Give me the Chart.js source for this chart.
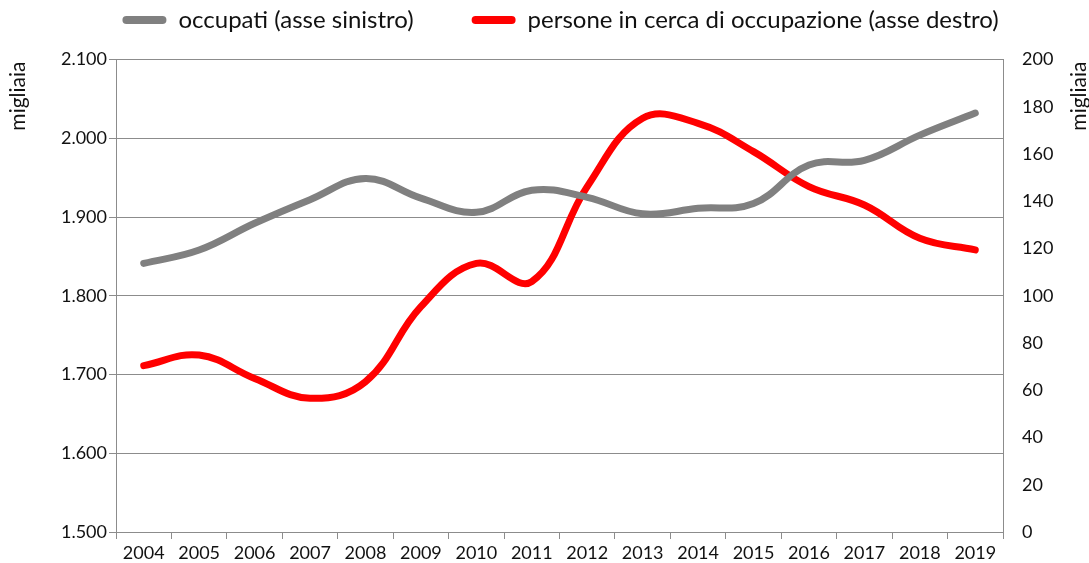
<!DOCTYPE html>
<html lang="it">
<head>
<meta charset="utf-8">
<title>Occupati e persone in cerca di occupazione</title>
<script src="https://cdn.jsdelivr.net/npm/chart.js@4/dist/chart.umd.min.js"></script>
<style>
  html, body { margin:0; padding:0; background:#fff; }
  #wrap { width:1089px; height:563px; position:relative; }
</style>
</head>
<body>
<div id="wrap"><canvas id="lavoroChart"></canvas></div>
<script>
// anni
const years = ['2004','2005','2006','2007','2008','2009','2010','2011','2012','2013','2014','2015','2016','2017','2018','2019'];
// occupati, migliaia (asse sinistro)
const occupati = [1841, 1858, 1892, 1922, 1949, 1924, 1906, 1934, 1925, 1904, 1911, 1917, 1966, 1972, 2004, 2032];
// persone in cerca di occupazione, migliaia (asse destro)
const inCerca = [70.4, 74.9, 65.0, 56.6, 63.6, 95.4, 113.7, 106.0, 146.2, 175.1, 173.0, 161.0, 146.2, 138.4, 124.3, 119.4];

const labelOccupati = 'occupati (asse sinistro)';
const labelInCerca = 'persone in cerca di occupazione (asse destro)';
const axisTitle = 'migliaia';

const FONT = 'Lato, "Liberation Sans", Arial, sans-serif';
const GRID = '#8c8c8c';

// 1500 -> "1.500"
function fmtMigliaia(v){
  if (v < 1000) return String(v);
  return Math.floor(v/1000) + '.' + String(v % 1000).padStart(3,'0');
}

// both "migliaia" titles read bottom-to-top, near the top of each axis
const axisTitles = {
  id: 'axisTitles',
  afterDraw(chart){
    const c = chart.ctx, top = chart.chartArea.top;
    c.save();
    c.font = '21px ' + FONT;
    c.fillStyle = '#111';
    c.textAlign = 'right';
    c.textBaseline = 'middle';
    [[18, top + 2], [1079, top + 2]].forEach(([x, y]) => {
      c.save();
      c.translate(x, y);
      c.rotate(-Math.PI/2);
      c.fillText(axisTitle, 0, 0);
      c.restore();
    });
    c.restore();
  }
};

// legend padding doubles as the gap between the two items, so pull the
// box's top edge up (items sit at top + padding) and nudge it right
const legendShift = {
  id: 'legendShift',
  afterLayout(chart){
    const lg = chart.legend;
    if (!lg) return;
    lg.left += 16; lg.right += 16;
    lg.top -= 54;
  }
};

new Chart(document.getElementById('lavoroChart'), {
  type: 'line',
  data: {
    labels: years,
    datasets: [
      { label: labelOccupati, data: occupati, yAxisID: 'y', borderColor: '#808080', backgroundColor: '#808080',
        borderWidth: 7, tension: 0.4, pointRadius: 0, borderCapStyle: 'round' },
      { label: labelInCerca, data: inCerca, yAxisID: 'y1', borderColor: '#ff0000', backgroundColor: '#ff0000',
        borderWidth: 7, tension: 0.4, pointRadius: 0, borderCapStyle: 'round' }
    ]
  },
  options: {
    responsive: true,
    maintainAspectRatio: false,
    animation: false,
    layout: { padding: { left: 0, right: 0, top: 4, bottom: 0 } },
    plugins: {
      legend: {
        position: 'top',
        maxHeight: 55.5,
        labels: {
          boxWidth: 44, boxHeight: 8, useBorderRadius: true, borderRadius: 4,
          padding: 58, color: '#111', font: { family: FONT, size: 24 },
          // plain filled bars, no outline
          generateLabels: chart => Chart.defaults.plugins.legend.labels.generateLabels(chart)
            .map(item => ({ ...item, lineWidth: 0 }))
        }
      },
      tooltip: { enabled: false }
    },
    scales: {
      x: {
        offset: true,
        grid: { offset: true, drawOnChartArea: false, color: GRID, tickLength: 7 },
        border: { color: GRID },
        ticks: { color: '#111', font: { family: FONT, size: 18 }, padding: 3, maxRotation: 0 },
        afterFit: s => { s.height = 31; }
      },
      y: {
        position: 'left', min: 1500, max: 2100,
        grid: { color: GRID, tickLength: 7 },
        border: { color: GRID },
        ticks: { stepSize: 100, color: '#111', font: { family: FONT, size: 18 }, padding: 2, callback: v => fmtMigliaia(v) },
        afterFit: s => { s.width = 116; }
      },
      y1: {
        position: 'right', min: 0, max: 200,
        grid: { drawOnChartArea: false, drawTicks: false },
        border: { color: GRID },
        ticks: { stepSize: 20, color: '#111', font: { family: FONT, size: 18 }, padding: 19 },
        afterFit: s => { s.width = 86; }
      }
    }
  },
  plugins: [axisTitles, legendShift]
});
</script>
</body>
</html>
